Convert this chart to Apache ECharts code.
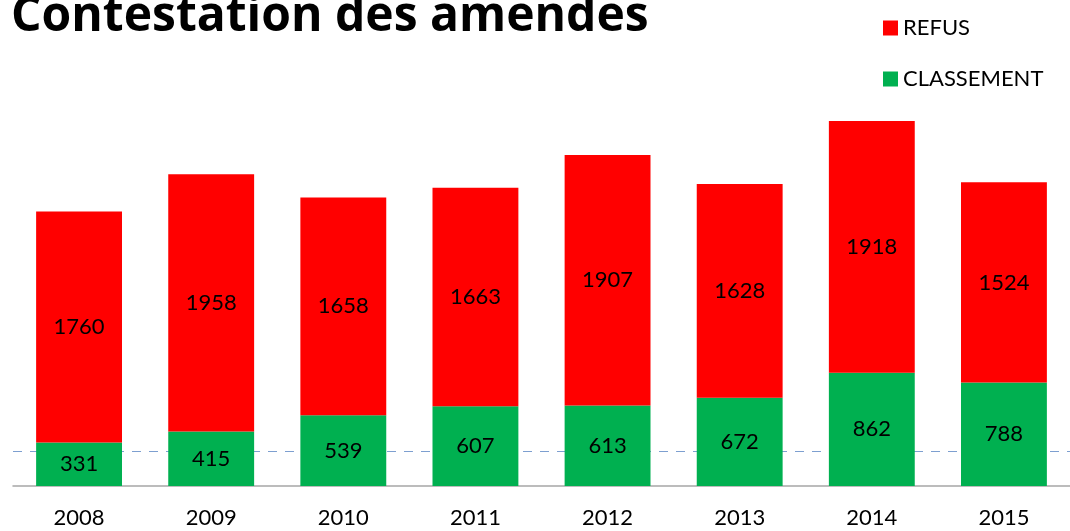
<!DOCTYPE html>
<html>
<head>
<meta charset="utf-8">
<script src="https://cdn.jsdelivr.net/npm/echarts@6/dist/echarts.min.js"></script>
<style>
  html, body { margin: 0; padding: 0; background: #fff; }
  #chart { width: 1070px; height: 531px; }
</style>
</head>
<body>
<div id="chart"></div>
<script>
var years = ['2008', '2009', '2010', '2011', '2012', '2013', '2014', '2015']
var classement = [331, 415, 539, 607, 613, 672, 862, 788]
var refus = [1760, 1958, 1658, 1663, 1907, 1628, 1918, 1524]
var refLine = 267

var chart = echarts.init(document.getElementById('chart'))
var labelFont = 'Lato, "Open Sans", sans-serif'

chart.setOption({
  animation: false,
  title: {
    text: 'Contestation des amendes',
    left: 6,
    top: -12,
    textStyle: {
      fontFamily: '"Open Sans", Lato, sans-serif',
      fontWeight: 'bold',
      fontSize: 48,
      color: '#000'
    }
  },
  legend: {
    orient: 'vertical',
    left: 878,
    top: 12,
    itemWidth: 15,
    itemHeight: 15,
    itemGap: 29,
    icon: 'rect',
    data: ['REFUS', 'CLASSEMENT'],
    textStyle: {
      fontFamily: labelFont,
      fontSize: 22,
      color: '#000'
    }
  },
  grid: {
    left: 13,
    right: 0,
    top: 92,
    bottom: 45
  },
  xAxis: {
    type: 'category',
    data: years,
    axisTick: { show: false },
    axisLine: { lineStyle: { color: '#a6a6a6', width: 1.5 } },
    axisLabel: {
      fontFamily: labelFont,
      fontSize: 22,
      color: '#000',
      margin: 21
    }
  },
  yAxis: {
    type: 'value',
    min: 0,
    max: 3000,
    show: false,
    splitLine: { show: false }
  },
  series: [
    {
      name: 'ref',
      type: 'line',
      data: [],
      z: 1,
      markLine: {
        silent: true,
        z: 1,
        symbol: 'none',
        label: { show: false },
        lineStyle: { color: '#7d9fd0', type: [9, 8], width: 1 },
        data: [{ yAxis: refLine }]
      }
    },
    {
      name: 'CLASSEMENT',
      type: 'bar',
      stack: 'total',
      barWidth: '65%',
      z: 3,
      itemStyle: { color: '#00b050' },
      label: {
        show: true,
        position: 'inside',
        fontFamily: labelFont,
        fontSize: 22,
        color: '#000'
      },
      data: classement
    },
    {
      name: 'REFUS',
      type: 'bar',
      stack: 'total',
      z: 3,
      itemStyle: { color: '#ff0000' },
      label: {
        show: true,
        position: 'inside',
        fontFamily: labelFont,
        fontSize: 22,
        color: '#000'
      },
      data: refus
    }
  ]
})
</script>
</body>
</html>
